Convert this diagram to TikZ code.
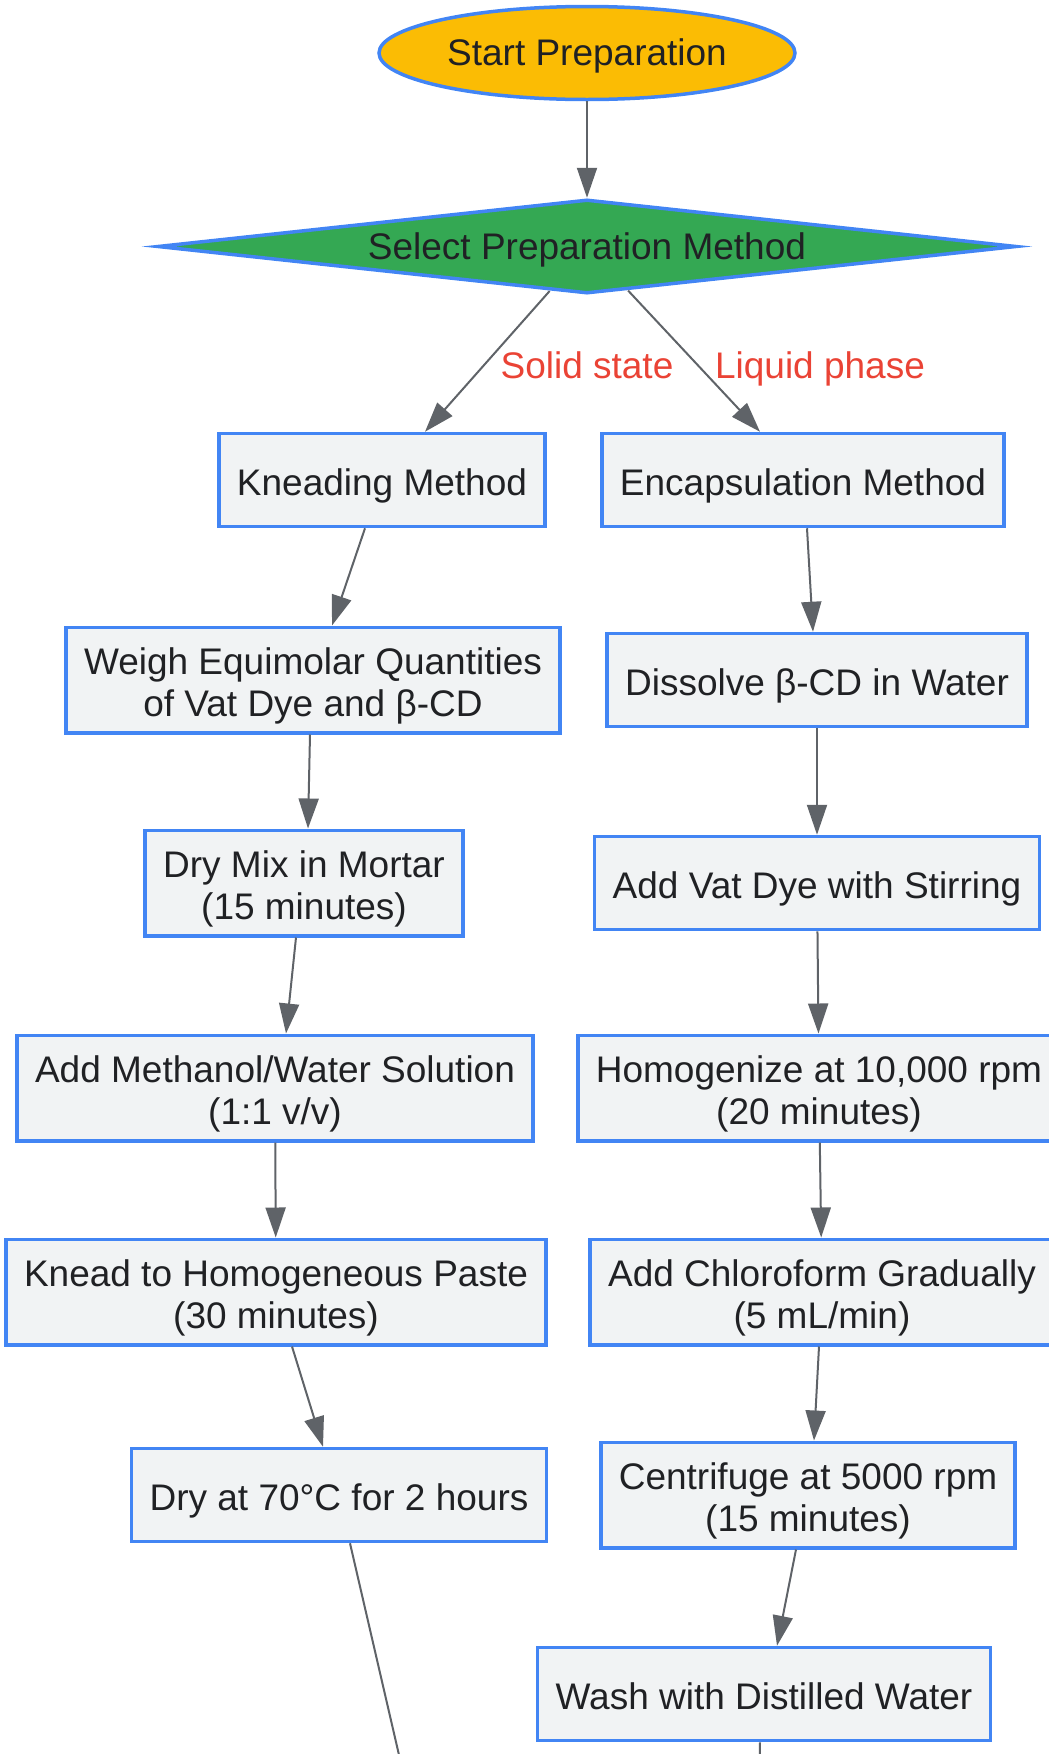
\documentclass[tikz,border=0pt]{standalone}
\usepackage{fontspec}
\setmainfont{Liberation Sans}
\usetikzlibrary{shapes.geometric, arrows.meta}
\definecolor{gblue}{HTML}{4285F4}
\definecolor{gyellow}{HTML}{FBBC04}
\definecolor{ggreen}{HTML}{34A853}
\definecolor{gred}{HTML}{EA4335}
\definecolor{gfill}{HTML}{F1F3F4}
\definecolor{gline}{HTML}{5F6368}
\definecolor{gtext}{HTML}{202124}
\newcommand\linestrut{\rule[-7.8pt]{0pt}{41.3pt}}
\tikzset{
  flowfont/.style={font=\fontsize{37}{42.5}\selectfont},
  strutted/.style={execute at begin node=\linestrut, execute at end node=\linestrut},
  procbox/.style={flowfont, draw=gblue, line width=3.5pt, fill=gfill, text=gtext,
    align=center, inner xsep=18pt, inner ysep=9pt, minimum height=93pt,
    text height=38pt, text depth=7pt},
  twoline/.style={text height=80.5pt, text depth=7pt, minimum height=101.5pt},
  startnode/.style={flowfont, strutted, ellipse, draw=gblue, line width=3.5pt, fill=gyellow,
    text=gtext, inner sep=0pt, minimum width=416pt, minimum height=93pt},
  choicenode/.style={flowfont, strutted, diamond, draw=gblue, line width=3.5pt, fill=ggreen,
    text=gtext, inner sep=0pt, shape aspect=9.3, minimum width=859pt, minimum height=94pt},
  edgelabel/.style={flowfont, strutted, text=gred, inner sep=0pt},
  flowline/.style={draw=gline, line width=2pt, -{Triangle[length=30pt, width=20pt]}}
}

\begin{document}
\begin{tikzpicture}[x=1pt, y=-1pt]
  \useasboundingbox (0,0) rectangle (1049,1754);
  \clip (0,0) rectangle (1049,1754);

  \node[startnode] (start) at (587,53) {Start Preparation};
  \node[choicenode] (select) at (587,246.5) {Select Preparation Method};
  \node[edgelabel] (lblsolid) at (587,366) {Solid state};
  \node[edgelabel] (lblliquid) at (820,366) {Liquid phase};

  \node[procbox] (knead) at (382,480) {Kneading Method};
  \node[procbox, twoline] (weigh) at (313,680) {Weigh Equimolar Quantities\\of Vat Dye and β-CD};
  \node[procbox, twoline] (drymix) at (304,883) {Dry Mix in Mortar\\(15 minutes)};
  \node[procbox, twoline] (methanol) at (275,1088) {Add Methanol/Water Solution\\(1:1 v/v)};
  \node[procbox, twoline] (paste) at (276,1292) {Knead to Homogeneous Paste\\(30 minutes)};
  \node[procbox] (drying) at (339,1495) {Dry at 70°C for 2 hours};

  \node[procbox] (encap) at (803,480) {Encapsulation Method};
  \node[procbox] (dissolve) at (817,680) {Dissolve β-CD in Water};
  \node[procbox] (addvat) at (817,883) {Add Vat Dye with Stirring};
  \node[procbox, twoline] (homog) at (819,1088) {Homogenize at 10,000 rpm\\(20 minutes)};
  \node[procbox, twoline] (chloro) at (822,1292) {Add Chloroform Gradually\\(5 mL/min)};
  \node[procbox, twoline] (centri) at (808,1495) {Centrifuge at 5000 rpm\\(15 minutes)};
  \node[procbox] (wash) at (764,1694) {Wash with Distilled Water};

  \coordinate (outdry) at (421,1850);
  \coordinate (outwash) at (758,1850);

  \draw[flowline] (start) -- (select);
  \draw[flowline] (select.230) -- ([xshift=43pt]knead.north);
  \draw[flowline] (select.313) -- ([xshift=-43pt]encap.north);

  \draw[flowline] ([xshift=-17pt]knead.south) -- ([xshift=19pt]weigh.north);
  \draw[flowline] ([xshift=-3pt]weigh.south) -- ([xshift=4pt]drymix.north);
  \draw[flowline] ([xshift=-8pt]drymix.south) -- ([xshift=11pt]methanol.north);
  \draw[flowline] (methanol) -- (paste);
  \draw[flowline] ([xshift=16pt]paste.south) -- ([xshift=-16pt]drying.north);
  \draw[flowline] ([xshift=11pt]drying.south) -- (outdry);

  \draw[flowline] ([xshift=4pt]encap.south) -- ([xshift=-4pt]dissolve.north);
  \draw[flowline] (dissolve) -- (addvat);
  \draw[flowline] (addvat) -- (homog);
  \draw[flowline] (homog) -- (chloro);
  \draw[flowline] ([xshift=-3pt]chloro.south) -- ([xshift=6pt]centri.north);
  \draw[flowline] ([xshift=-12pt]centri.south) -- ([xshift=13pt]wash.north);
  \draw[flowline] ([xshift=-4pt]wash.south) -- (outwash);
\end{tikzpicture}
\end{document}
